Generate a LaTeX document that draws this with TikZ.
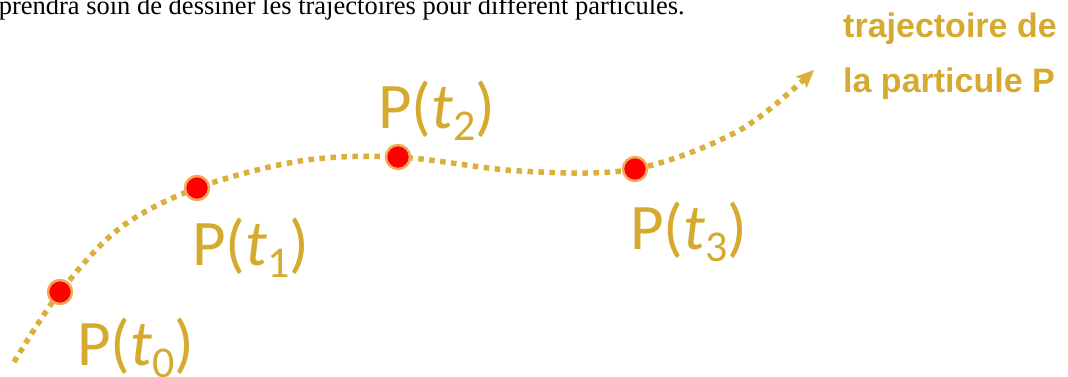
\documentclass[tikz,border=0pt]{standalone}
\usepackage{fontspec}
\setmainfont{Liberation Serif}
\newfontfamily\labelfont{Carlito}
\newfontfamily\titlefont{Liberation Sans}
\usetikzlibrary{arrows.meta}
\definecolor{gold}{RGB}{214,170,46}
\definecolor{dotgold}{RGB}{218,176,58}
\definecolor{halo}{RGB}{240,170,90}
\newcommand{\psub}[1]{{\fontsize{44}{44}\selectfont\raisebox{-12pt}{#1}}}
\tikzset{
  traj/.style={draw=dotgold, line width=5.5pt, dash pattern=on 5.5pt off 5.5pt,
    -{Stealth[length=18pt,width=16pt,inset=4pt,line width=0pt]}},
  pdot/.style={circle, fill=red, draw=halo, line width=2.5pt, minimum size=24pt, inner sep=0pt},
  plabel/.style={anchor=base west, text=gold, font=\labelfont\fontsize{65}{70}\selectfont, inner sep=0pt},
  note/.style={anchor=base west, text=gold, font=\titlefont\bfseries\fontsize{34}{40}\selectfont, inner sep=0pt},
  toptext/.style={anchor=base east, text=black, font=\fontsize{26.5}{30}\selectfont, inner sep=0pt}
}
\begin{document}
\begin{tikzpicture}[x=1pt,y=-1pt]
\useasboundingbox (0,0) rectangle (1068,376);
\node[toptext] (top) at (685,14) {prendra soin de dessiner les trajectoires pour différent particules.};
\coordinate (s) at (14,362);
\coordinate (c0) at (60,292);
\coordinate (m0) at (120,228);
\coordinate (c1) at (197,188);
\coordinate (m1) at (300,161);
\coordinate (c2) at (398,157);
\coordinate (m2) at (520,171);
\coordinate (c3) at (635,169);
\coordinate (m3) at (740,130);
\coordinate (e) at (814,70);
\draw[traj] plot[smooth, tension=0.55] coordinates {(s) (c0) (m0) (c1) (m1) (c2) (m2) (c3) (m3) (e)};
\node[pdot] (p0) at (c0) {};
\node[pdot] (p1) at (c1) {};
\node[pdot] (p2) at (c2) {};
\node[pdot] (p3) at (c3) {};
\node[plabel] (l0) at (77,365) {P(\textit{t}\psub{0})};
\node[plabel] (l1) at (192,265) {P(\textit{t}\psub{1})};
\node[plabel] (l2) at (378,128) {P(\textit{t}\psub{2})};
\node[plabel] (l3) at (630,249) {P(\textit{t}\psub{3})};
\node[note] (n1) at (843,37) {trajectoire de};
\node[note] (n2) at (843,92) {la particule P};
\end{tikzpicture}
\end{document}
